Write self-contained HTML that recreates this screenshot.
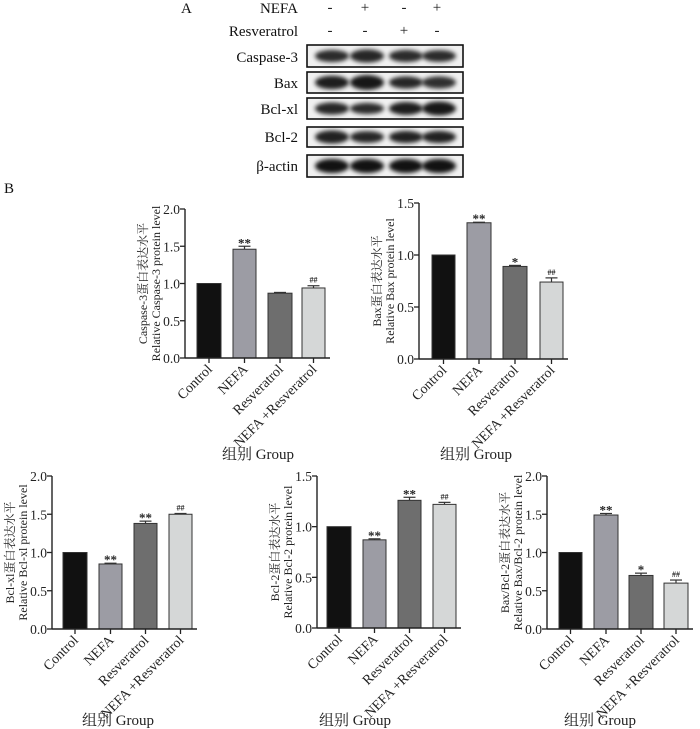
<!DOCTYPE html>
<html><head><meta charset="utf-8"><style>
html,body{margin:0;padding:0;background:#fff;}
svg{display:block;font-family:"Liberation Serif","Noto Serif CJK SC",serif;}
</style></head><body>
<svg id="s" width="700" height="729" xmlns="http://www.w3.org/2000/svg">
<defs><filter id="bl" x="-20%" y="-50%" width="140%" height="200%"><feGaussianBlur stdDeviation="2"/></filter></defs>
<g font-size="15" fill="#111">
<text x="181" y="13">A</text>
<text x="298" y="13" text-anchor="end">NEFA</text>
<text x="298" y="36" text-anchor="end">Resveratrol</text>
<text x="298" y="62" text-anchor="end">Caspase-3</text>
<text x="298" y="88" text-anchor="end">Bax</text>
<text x="298" y="114" text-anchor="end">Bcl-xl</text>
<text x="298" y="142" text-anchor="end">Bcl-2</text>
<text x="298" y="171" text-anchor="end">β-actin</text>
<text x="4" y="193">B</text>
</g>
<g id="wb"></g>
<g id="charts"></g>
</svg>
<script>
var NS="http://www.w3.org/2000/svg";
function el(p,t,a,txt){var e=document.createElementNS(NS,t);for(var k in a)e.setAttribute(k,a[k]);if(txt!=null)e.textContent=txt;p.appendChild(e);return e;}
var wb=document.getElementById('wb');
var sx=[330,365,404,437];
var s1=['-','+','-','+'],s2=['-','-','+','-'];
sx.forEach(function(x,i){el(wb,'text',{x:x,y:12,'font-size':15,'text-anchor':'middle',fill:'#222'},s1[i]);el(wb,'text',{x:x,y:35,'font-size':15,'text-anchor':'middle',fill:'#222'},s2[i]);});
var rows=[[45,67,[[.55,.6],[.6,.75],[.55,.6],[.55,.55]]],[72,93,[[.7,.8],[.75,1],[.6,.6],[.5,.6]]],[98,119,[[.6,.6],[.55,.45],[.7,.7],[.75,.85]]],[127,147,[[.65,.75],[.6,.55],[.65,.6],[.65,.6]]],[155,177,[[.8,.9],[.8,.9],[.8,.9],[.8,.9]]]];
rows.forEach(function(r){
 el(wb,'rect',{x:307,y:r[0],width:156,height:r[1]-r[0],fill:'#f0f0f0',stroke:'#111','stroke-width':1.6});
 var cy=(r[0]+r[1])/2;
 sx.forEach(function(x,i){var b=r[2][i];el(wb,'ellipse',{cx:x+2,cy:cy,rx:17,ry:4+b[1]*3.5,fill:'#000',opacity:0.6+b[0]*0.4,filter:'url(#bl)'});});
});
var cols=['#111','#9c9ca4','#6e6e6e','#d5d7d7'];
var cats=['Control','NEFA','Resveratrol','NEFA +Resveratrol'];
var charts=[
 {ax:185,top:209,bot:358,max:2,bars:[[197,221],[233,256],[268,292],[302,325]],v:[1,1.46,.87,.94],e:[0,.04,.01,.03],ann:['','**','','##'],l1:'Caspase-3蛋白表达水平',l2:'Relative Caspase-3 protein level',gx:258,gy:459},
 {ax:419,top:203,bot:359,max:1.5,bars:[[432,455],[467,491],[503,527],[540,563]],v:[1,1.31,.89,.74],e:[0,.005,.01,.04],ann:['','**','*','##'],l1:'Bax蛋白表达水平',l2:'Relative Bax protein level',gx:476,gy:459},
 {ax:52,top:476,bot:629,max:2,bars:[[63,87],[99,122],[134,157],[169,192]],v:[1,.85,1.38,1.5],e:[0,.01,.03,.01],ann:['','**','**','##'],l1:'Bcl-xl蛋白表达水平',l2:'Relative Bcl-xl protein level',gx:118,gy:725},
 {ax:317,top:476,bot:628,max:1.5,bars:[[327,351],[363,386],[398,421],[433,456]],v:[1,.87,1.26,1.22],e:[0,.01,.03,.02],ann:['','**','**','##'],l1:'Bcl-2蛋白表达水平',l2:'Relative Bcl-2 protein level',gx:355,gy:725},
 {ax:547,top:476,bot:629,max:2,bars:[[559,582],[594,618],[629,653],[664,688]],v:[1,1.49,.7,.6],e:[0,.02,.03,.04],ann:['','**','*','##'],l1:'Bax/Bcl-2蛋白表达水平',l2:'Relative Bax/Bcl-2 protein level',gx:600,gy:725}
];
var cg=document.getElementById('charts');
charts.forEach(function(c){
 var g=el(cg,'g',{});
 var h=c.bot-c.top, yv=function(v){return c.bot-v/c.max*h;};
 var end=c.bars[3][1]+5;
 for(var t=0;t<=c.max+1e-9;t+=0.5){var y=yv(t);el(g,'line',{x1:c.ax-5,y1:y,x2:c.ax,y2:y,stroke:'#222','stroke-width':1.3});el(g,'text',{x:c.ax-5,y:y+5,'font-size':13.5,'text-anchor':'end',fill:'#222'},t.toFixed(1));}
 c.bars.forEach(function(b,i){
  var y=yv(c.v[i]),cx=(b[0]+b[1])/2;
  if(c.e[i]>0){var ye=yv(c.v[i]+c.e[i]);el(g,'line',{x1:cx,y1:y,x2:cx,y2:ye,stroke:'#333','stroke-width':1.2});el(g,'line',{x1:cx-6,y1:ye,x2:cx+6,y2:ye,stroke:'#333','stroke-width':1.2});}
  el(g,'rect',{x:b[0],y:y,width:b[1]-b[0],height:c.bot-y,fill:cols[i],stroke:'#333','stroke-width':1});
  if(c.ann[i]){var ya=yv(c.v[i]+c.e[i])-3;el(g,'text',{x:cx,y:c.ann[i]=='##'?ya:ya+4,'font-size':c.ann[i]=='##'?8:13,'text-anchor':'middle',fill:'#222','font-weight':'bold'},c.ann[i]);}
  el(g,'line',{x1:cx,y1:c.bot,x2:cx,y2:c.bot+5,stroke:'#222','stroke-width':1.3});
  el(g,'text',{x:cx+4,y:c.bot+12,'font-size':14,'text-anchor':'end',fill:'#222',transform:'rotate(-45 '+(cx+4)+' '+(c.bot+12)+')'},cats[i]);
 });
 el(g,'line',{x1:c.ax,y1:c.top,x2:c.ax,y2:c.bot,stroke:'#222','stroke-width':1.4});
 el(g,'line',{x1:c.ax,y1:c.bot,x2:end,y2:c.bot,stroke:'#222','stroke-width':1.4});
 var my=(c.top+c.bot)/2;
 [[c.ax-38,c.l1],[c.ax-25,c.l2]].forEach(function(a){el(g,'text',{x:a[0],y:my,'font-size':12,'text-anchor':'middle',fill:'#222',transform:'rotate(-90 '+a[0]+' '+my+')'},a[1]);});
 el(g,'text',{x:c.gx,y:c.gy,'font-size':15,'text-anchor':'middle',fill:'#222'},'组别 Group');
});
</script>
</body></html>
